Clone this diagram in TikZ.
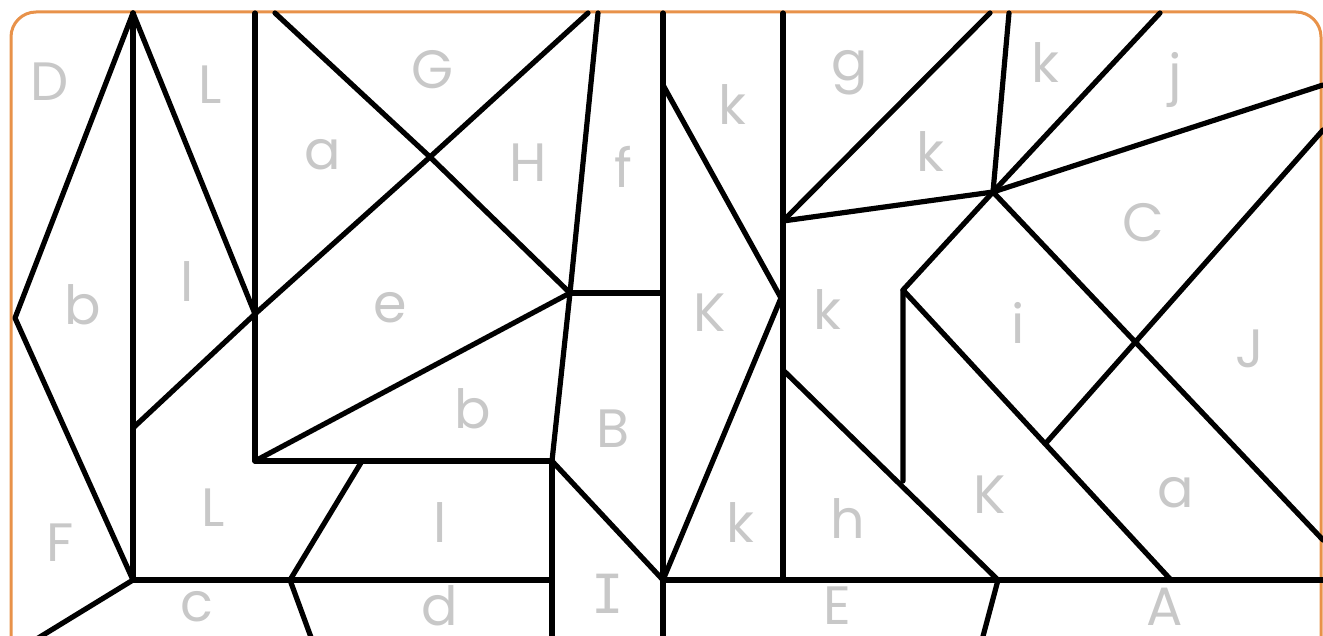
\documentclass[tikz,border=0pt]{standalone}
\usepackage{fontspec}
\setmainfont{Poppins}
\newfontfamily\barfont{DejaVu Sans Mono}
\definecolor{frameorange}{HTML}{E8924A}
\definecolor{labelgray}{HTML}{C8C8C8}

\begin{document}
\begin{tikzpicture}[
    x=0.5pt, y=-0.5pt,
    piece/.style={line width=2.6pt, line cap=round, line join=round},
    frame/.style={draw=frameorange, line width=1.5pt, rounded corners=12.5pt},
    letter/.style={text=labelgray, font=\fontsize{27}{27}\selectfont, inner sep=0pt}
]
\useasboundingbox (0,0) rectangle (1323,636);
\clip (0,0) rectangle (1323,636);

% Frame
\draw[frame] (11,12) rectangle (1321,662);

% Define vertices (left half)
\coordinate (apex) at (133,13);
\coordinate (kite) at (15,318);
\coordinate (foot) at (133,580);
\coordinate (v4) at (133,428);
\coordinate (v5) at (255,314);
\coordinate (cross) at (430,157);
\coordinate (top1) at (275,13);
\coordinate (top2) at (588,13);
\coordinate (top3) at (598,13);
\coordinate (mid) at (570,293);
\coordinate (inner) at (255,461);
\coordinate (knee) at (552,461);
\coordinate (s1) at (362,461);
\coordinate (s2) at (290,580);
\coordinate (s3) at (552,580);
\coordinate (axis) at (663,293);
\coordinate (axtop) at (663,13);
\coordinate (axlow) at (663,580);
\coordinate (axbot) at (663,640);

% Define vertices (right half)
\coordinate (r1) at (663,85);
\coordinate (r2) at (781,298);
\coordinate (coltop) at (783,13);
\coordinate (colbot) at (783,580);
\coordinate (r3) at (783,221);
\coordinate (r4) at (990,13);
\coordinate (hub) at (993,192);
\coordinate (r5) at (1009,13);
\coordinate (r6) at (1160,13);
\coordinate (r7) at (1323,85);
\coordinate (r8) at (903,290);
\coordinate (r9) at (903,481);
\coordinate (r10) at (1171,580);
\coordinate (r11) at (1323,540);
\coordinate (r12) at (1323,130);
\coordinate (r13) at (1046,443);
\coordinate (r14) at (783,370);
\coordinate (r15) at (998,580);
\coordinate (r16) at (1323,580);

% Define edges (left half)
\draw[piece] (apex) -- (kite) -- (foot);
\draw[piece] (apex) -- (foot);
\draw[piece] (apex) -- (v5);
\draw[piece] (v4) -- (v5) -- (cross) -- (top2);
\draw[piece] (top1) -- (cross) -- (mid);
\draw[piece] (255,13) -- (inner);
\draw[piece] (inner) -- (mid);
\draw[piece] (inner) -- (knee);
\draw[piece] (top3) -- (mid) -- (knee);
\draw[piece] (mid) -- (axis);
\draw[piece] (knee) -- (552,640);
\draw[piece] (knee) -- (axlow);
\draw[piece] (s1) -- (s2);
\draw[piece] (foot) -- (s3);
\draw[piece] (foot) -- (35,640);
\draw[piece] (s2) -- (312,640);
\draw[piece] (axtop) -- (axbot);

% Define edges (right half)
\draw[piece] (r1) -- (r2) -- (axlow);
\draw[piece] (coltop) -- (colbot);
\draw[piece] (r3) -- (r4);
\draw[piece] (r3) -- (hub);
\draw[piece] (hub) -- (r5);
\draw[piece] (hub) -- (r6);
\draw[piece] (hub) -- (r7);
\draw[piece] (hub) -- (r8) -- (r9);
\draw[piece] (r8) -- (r10);
\draw[piece] (hub) -- (r11);
\draw[piece] (r12) -- (r13);
\draw[piece] (r14) -- (r15);
\draw[piece] (axlow) -- (r16);
\draw[piece] (r15) -- (982,640);

% Labels
\node[letter] (lD) at (50,82) {D};
\node[letter] (lL1) at (210,85) {L};
\node[letter] (la1) at (323,155) {a};
\node[letter] (lG) at (433,70) {G};
\node[letter] (lH) at (528,163) {H};
\node[letter] (lf) at (623,167) {f};
\node[letter] (lb1) at (83,305) {b};
\node[letter] (ll1) at (187,282) {l};
\node[letter] (le) at (390,308) {e};
\node[letter] (lb2) at (473,409) {b};
\node[letter] (lB) at (613,429) {B};
\node[letter] (lL2) at (213,508) {L};
\node[letter] (ll2) at (440,523) {l};
\node[letter] (lF) at (60,543) {F};
\node[letter] (lc) at (197,607) {c};
\node[letter] (ld) at (440,606) {d};
\node[letter, font=\barfont\fontsize{27}{27}\selectfont] (lI) at (608,594) {I};
\node[letter] (lk1) at (732,105) {k};
\node[letter] (lg) at (850,73) {g};
\node[letter] (lk2) at (930,152) {k};
\node[letter] (lK1) at (710,313) {K};
\node[letter] (lk3) at (827,310) {k};
\node[letter] (lk4) at (740,523) {k};
\node[letter] (lh) at (848,519) {h};
\node[letter] (lE) at (837,606) {E};
\node[letter] (lK2) at (990,495) {K};
\node[letter] (lk5) at (1045,63) {k};
\node[letter] (lj) at (1175,80) {j};
\node[letter] (lC) at (1143,223) {C};
\node[letter] (li) at (1018,323) {i};
\node[letter] (lJ) at (1250,349) {J};
\node[letter] (la2) at (1176,493) {a};
\node[letter] (lA) at (1165,607) {A};

\end{tikzpicture}
\end{document}
